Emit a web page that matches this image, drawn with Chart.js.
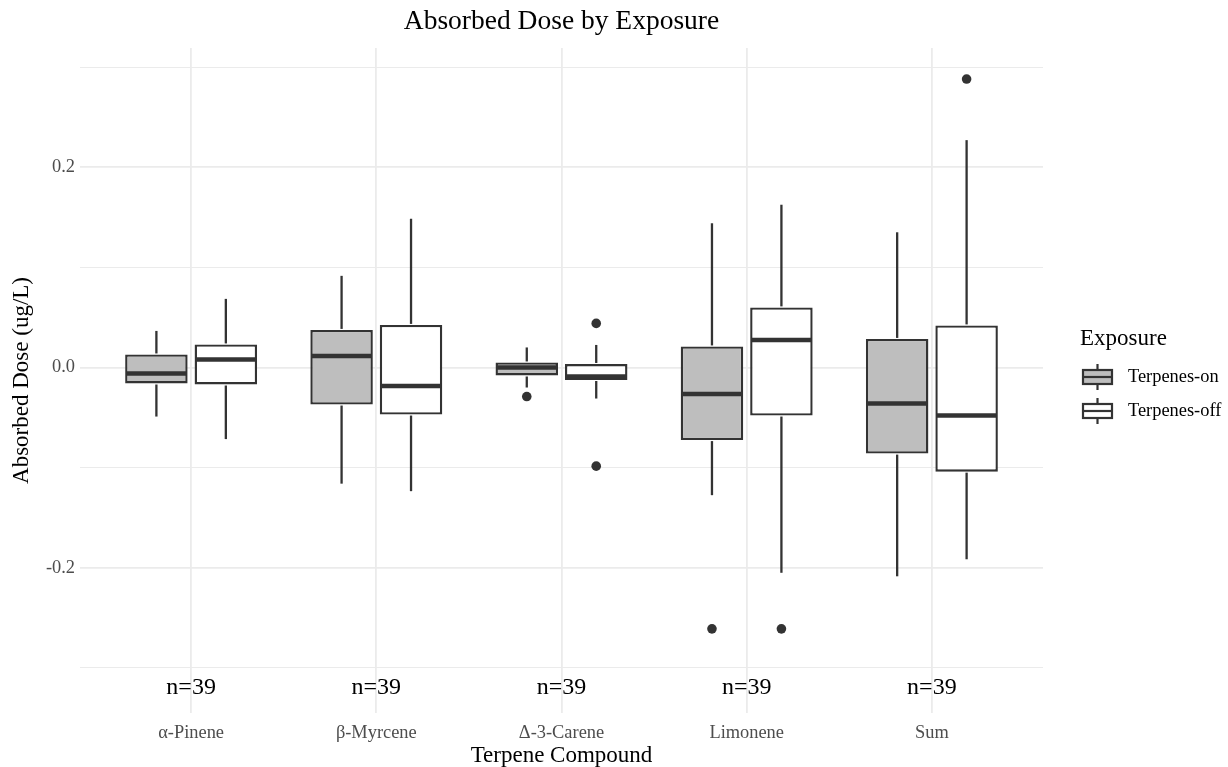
<!DOCTYPE html>
<html>
<head>
<meta charset="utf-8">
<title>Absorbed Dose by Exposure</title>
<script src="https://cdn.jsdelivr.net/npm/chart.js@4.4.0/dist/chart.umd.min.js"></script>
<style>
  html, body { margin: 0; padding: 0; background: #ffffff; }
</style>
</head>
<body>
<canvas id="chart" width="1228" height="767"></canvas>
<script>
var compounds = ['α-Pinene', 'β-Myrcene', 'Δ-3-Carene', 'Limonene', 'Sum'];
var sampleSizes = [39, 39, 39, 39, 39];

// Terpenes-on: whisker ends, quartiles, median, outliers
var onLower = [-0.049, -0.116, -0.020, -0.1275, -0.2085];
var onQ1 = [-0.016, -0.037, -0.008, -0.0725, -0.086];
var onMedian = [-0.006, 0.0115, 0.0, -0.0265, -0.036];
var onQ3 = [0.013, 0.0375, 0.005, 0.021, 0.0285];
var onUpper = [0.0365, 0.0915, 0.020, 0.144, 0.135];
var onOutliers = [[], [], [-0.029], [-0.261], []];

// Terpenes-off
var offLower = [-0.0715, -0.1235, -0.031, -0.205, -0.1915];
var offQ1 = [-0.017, -0.047, -0.0125, -0.048, -0.104];
var offMedian = [0.008, -0.0185, -0.009, 0.0275, -0.048];
var offQ3 = [0.023, 0.0425, 0.0035, 0.060, 0.042];
var offUpper = [0.0685, 0.1485, 0.0225, 0.1625, 0.227];
var offOutliers = [[], [], [0.044, -0.0985], [-0.261], [0.288]];

var yTicks = [-0.3, -0.2, -0.1, 0, 0.1, 0.2, 0.3];

var groups = [
	{ label: 'Terpenes-on', fill: '#bebebe', lower: onLower, q1: onQ1, median: onMedian, q3: onQ3, upper: onUpper, outliers: onOutliers },
	{ label: 'Terpenes-off', fill: '#ffffff', lower: offLower, q1: offQ1, median: offMedian, q3: offQ3, upper: offUpper, outliers: offOutliers }
];

var SERIF = "'Liberation Serif', 'Times New Roman', serif";
var INK = '#333333';

function line(ctx, x1, y1, x2, y2) {
	ctx.beginPath();
	ctx.moveTo(x1, y1);
	ctx.lineTo(x2, y2);
	ctx.stroke();
}

// whiskers, medians, outliers and the n= labels on top of the boxes
var boxExtras = {
	id: 'boxExtras',
	afterDatasetsDraw: function(chart) {
		var ctx = chart.ctx;
		var y = chart.scales.y;
		var x = chart.scales.x;
		ctx.save();
		groups.forEach(function(g, d) {
			var meta = chart.getDatasetMeta(d);
			meta.data.forEach(function(bar, i) {
				var cx = bar.x;
				var half = bar.width / 2;
				ctx.strokeStyle = INK;
				ctx.lineWidth = 2.3;
				line(ctx, cx, y.getPixelForValue(g.q3[i]) - 1, cx, y.getPixelForValue(g.upper[i]));
				line(ctx, cx, y.getPixelForValue(g.q1[i]) + 1, cx, y.getPixelForValue(g.lower[i]));
				ctx.lineWidth = 4.4;
				var my = y.getPixelForValue(g.median[i]);
				line(ctx, cx - half + 1, my, cx + half - 1, my);
				ctx.fillStyle = INK;
				g.outliers[i].forEach(function(v) {
					ctx.beginPath();
					ctx.arc(cx, y.getPixelForValue(v), 4.8, 0, Math.PI * 2);
					ctx.fill();
				});
			});
		});
		ctx.fillStyle = '#000000';
		ctx.font = '24px ' + SERIF;
		ctx.textAlign = 'center';
		ctx.textBaseline = 'middle';
		sampleSizes.forEach(function(n, i) {
			ctx.fillText('n=' + n, x.getPixelForValue(i + 1), y.getPixelForValue(-0.32));
		});
		ctx.restore();
	},
	afterDraw: function(chart) {
		var ctx = chart.ctx;
		var area = chart.chartArea;
		ctx.save();
		// title over the panel
		ctx.fillStyle = '#000000';
		ctx.font = '27.5px ' + SERIF;
		ctx.textAlign = 'center';
		ctx.textBaseline = 'middle';
		ctx.fillText('Absorbed Dose by Exposure', (area.left + area.right) / 2, 22);

		// legend
		ctx.textAlign = 'left';
		ctx.font = '23px ' + SERIF;
		ctx.fillText('Exposure', 1080, 339);
		ctx.font = '18.4px ' + SERIF;
		groups.forEach(function(g, k) {
			var cy = 377 + k * 34;
			var kx = 1083, kw = 29, kh = 14;
			ctx.strokeStyle = INK;
			ctx.lineWidth = 2.2;
			line(ctx, kx + kw / 2, cy - 13, kx + kw / 2, cy + 13);
			ctx.fillStyle = g.fill;
			ctx.fillRect(kx, cy - kh / 2, kw, kh);
			ctx.strokeRect(kx, cy - kh / 2, kw, kh);
			line(ctx, kx, cy, kx + kw, cy);
			ctx.fillStyle = '#000000';
			ctx.fillText(g.label, 1128, cy);
		});
		ctx.restore();
	}
};

new Chart(document.getElementById('chart'), {
	type: 'bar',
	data: {
		datasets: groups.map(function(g) {
			return {
				label: g.label,
				data: compounds.map(function(c, i) {
					return { x: i + 1, y: [g.q1[i], g.q3[i]] };
				}),
				backgroundColor: g.fill,
				borderColor: INK,
				borderWidth: 2.4,
				borderSkipped: false,
				categoryPercentage: 0.75,
				barPercentage: 0.9
			};
		})
	},
	options: {
		responsive: false,
		animation: false,
		devicePixelRatio: 1,
		layout: { padding: { top: 48, right: 185, bottom: 0, left: 0 } },
		plugins: {
			legend: { display: false },
			title: { display: false },
			tooltip: { enabled: false }
		},
		scales: {
			x: {
				type: 'linear',
				min: 0.4,
				max: 5.6,
				offset: false,
				afterBuildTicks: function(scale) {
					scale.ticks = compounds.map(function(c, i) { return { value: i + 1 }; });
				},
				afterFit: function(scale) { scale.height = 54; },
				ticks: {
					autoSkip: false,
					maxRotation: 0,
					padding: 9,
					color: '#4d4d4d',
					font: { family: SERIF, size: 18.4 },
					callback: function(v) { return compounds[v - 1]; }
				},
				grid: { color: '#ebebeb', lineWidth: 1.8, drawTicks: false, offset: false },
				border: { display: false },
				title: {
					display: true,
					text: 'Terpene Compound',
					color: '#000000',
					font: { family: SERIF, size: 23, lineHeight: 1 },
					padding: { top: 0, bottom: 0 }
				}
			},
			y: {
				min: -0.345,
				max: 0.319,
				afterBuildTicks: function(scale) {
					scale.ticks = yTicks.map(function(v) { return { value: v }; });
				},
				afterFit: function(scale) { scale.width = 80; },
				ticks: {
					padding: 5,
					color: '#4d4d4d',
					font: { family: SERIF, size: 18.4 },
					callback: function(v) {
						var r = Math.round(v * 10);
						return r % 2 === 0 ? v.toFixed(1) : '';
					}
				},
				grid: {
					color: '#ebebeb',
					drawTicks: false,
					lineWidth: function(c) {
						return Math.round(c.tick.value * 10) % 2 === 0 ? 1.8 : 1;
					}
				},
				border: { display: false },
				title: {
					display: true,
					text: 'Absorbed Dose (ug/L)',
					color: '#000000',
					font: { family: SERIF, size: 23, lineHeight: 1 },
					padding: { top: 10.5, bottom: 0 }
				}
			}
		}
	},
	plugins: [boxExtras]
});
</script>
</body>
</html>
